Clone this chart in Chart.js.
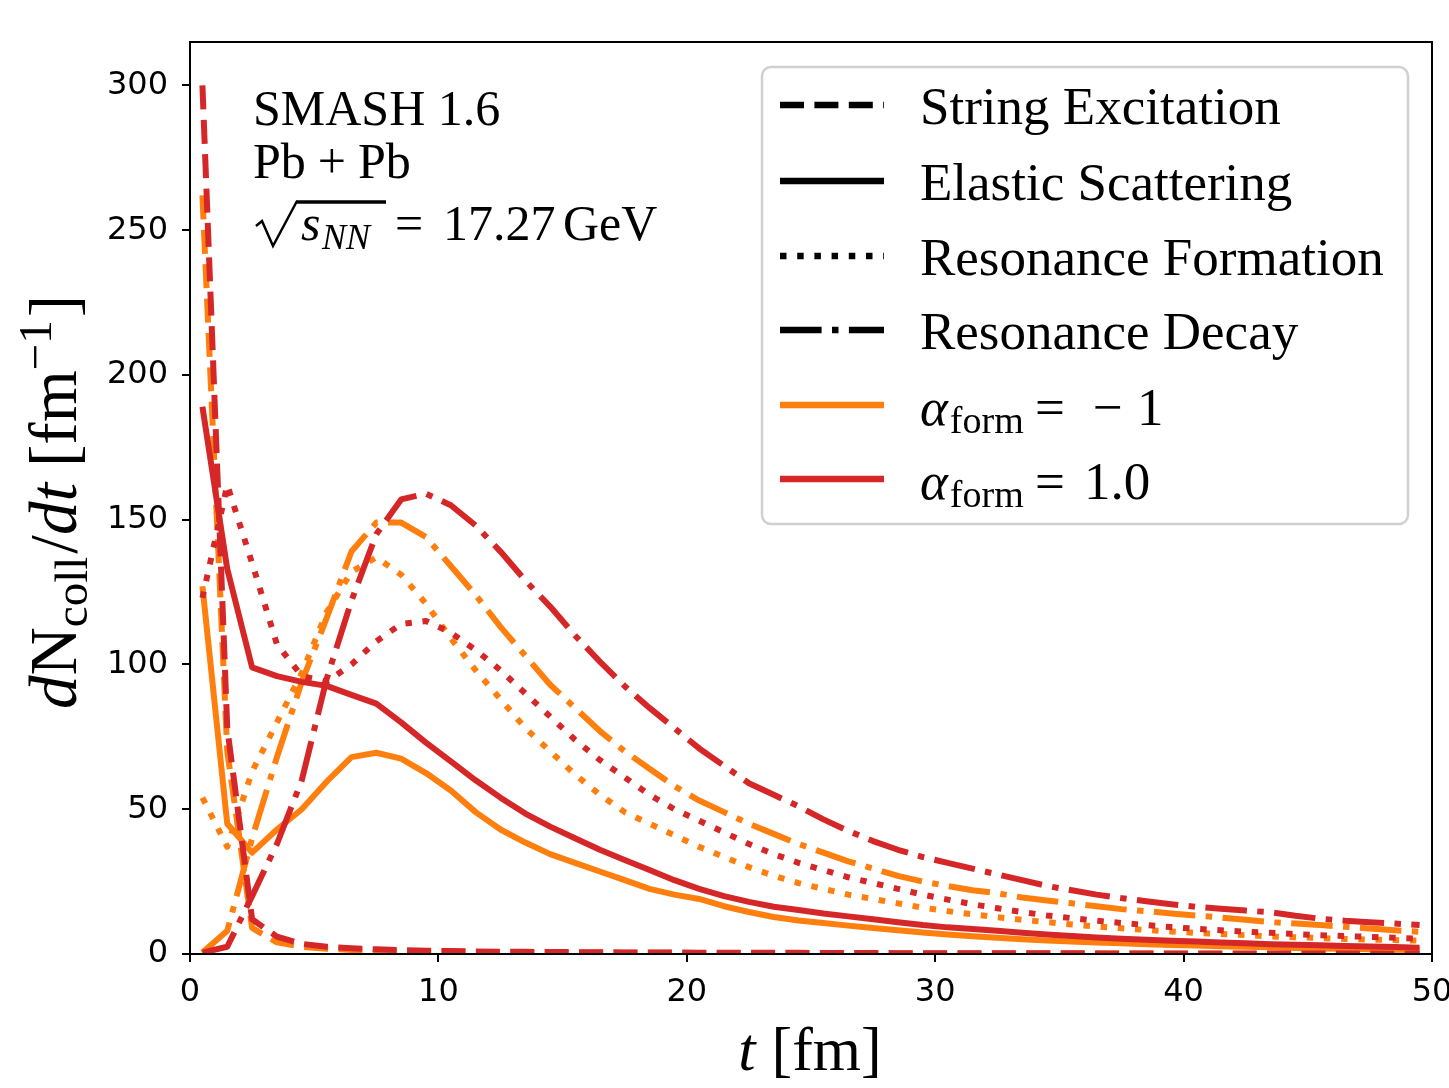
<!DOCTYPE html>
<html>
<head>
<meta charset="utf-8">
<script src="https://cdn.jsdelivr.net/npm/chart.js@4"></script>
<style>
  html, body { margin: 0; padding: 0; background: #fff; }
  canvas { display: block; }
</style>
</head>
<body>
<canvas id="chart" width="1449" height="1088"></canvas>
<script>
// time bins (fm)
const times = [0.5, 1.5, 2.5, 3.5, 4.5, 5.5, 6.5, 7.5, 8.5, 9.5,
  10.5, 11.5, 12.5, 13.5, 14.5, 15.5, 16.5, 17.5, 18.5, 19.5,
  20.5, 21.5, 22.5, 23.5, 24.5, 25.5, 26.5, 27.5, 28.5, 29.5,
  30.5, 31.5, 32.5, 33.5, 34.5, 35.5, 36.5, 37.5, 38.5, 39.5,
  40.5, 41.5, 42.5, 43.5, 44.5, 45.5, 46.5, 47.5, 48.5, 49.5];

const xTicks = [0, 10, 20, 30, 40, 50];
const yTicks = [0, 50, 100, 150, 200, 250, 300];

// alpha_form = 1.0 (red)
const stringRed = [300, 78, 12, 6, 3.5, 2.5, 2, 1.6, 1.3, 1.1,
  1.0, 0.9, 0.8, 0.75, 0.7, 0.65, 0.6, 0.55, 0.5, 0.5,
  0.45, 0.45, 0.4, 0.4, 0.4, 0.35, 0.35, 0.35, 0.3, 0.3,
  0.3, 0.3, 0.25, 0.25, 0.25, 0.25, 0.2, 0.2, 0.2, 0.2,
  0.2, 0.2, 0.15, 0.15, 0.15, 0.15, 0.15, 0.15, 0.1, 0.1];
const elasticRed = [189, 133, 99, 96, 94, 92.6, 89.5, 86.5, 80, 73,
  66.5, 60, 54, 48.5, 44, 40, 36, 32.5, 29, 25.5,
  22.5, 20, 18, 16.3, 15.2, 14, 13, 12, 11, 10,
  9.2, 8.6, 8, 7.3, 6.7, 6.2, 5.7, 5.3, 4.9, 4.6,
  4.3, 4.0, 3.7, 3.4, 3.2, 3.0, 2.8, 2.6, 2.4, 2.2];
const formationRed = [123, 162, 135, 107, 96, 94, 100, 108, 114, 115,
  111, 105, 98, 90, 82, 74, 67, 61, 55, 50,
  46, 42, 38, 34.5, 31.5, 29, 26.5, 24.5, 22.5, 20.5,
  18.8, 17.2, 15.8, 14.5, 13.3, 12.4, 11.5, 10.7, 10, 9.3,
  8.7, 8.2, 7.7, 7.3, 6.9, 6.5, 6.2, 5.9, 5.6, 5.3];
const decayRed = [0.5, 2.5, 20, 38, 60, 95, 122, 145, 157, 159,
  155, 148, 139, 129, 120, 110, 101, 92.5, 85, 78,
  71, 65, 59, 55, 51, 46.5, 42.5, 39, 36, 33.5,
  31.5, 29.5, 27.5, 25.5, 23.5, 22, 20.5, 19.3, 18.2, 17.2,
  16.3, 15.6, 15, 14.4, 13.2, 12.2, 11.5, 11, 10.5, 10];

// alpha_form = -1 (orange)
const stringOrange = [262, 70, 9, 4, 2.5, 1.8, 1.4, 1.2, 1.0, 0.9,
  0.8, 0.7, 0.65, 0.6, 0.55, 0.5, 0.5, 0.45, 0.4, 0.4,
  0.35, 0.35, 0.3, 0.3, 0.3, 0.3, 0.25, 0.25, 0.25, 0.2,
  0.2, 0.2, 0.2, 0.2, 0.15, 0.15, 0.15, 0.15, 0.15, 0.1,
  0.1, 0.1, 0.1, 0.1, 0.1, 0.1, 0.1, 0.1, 0.05, 0.05];
const elasticOrange = [127, 45, 35, 43, 50, 59.5, 68, 69.5, 67.5, 62.5,
  56.5, 49, 43, 38.5, 34.5, 31.5, 28.5, 25.5, 22.5, 20.5,
  19, 16.5, 14.5, 12.8, 11.6, 10.7, 9.8, 9, 8.2, 7.4,
  6.7, 6.1, 5.6, 5.1, 4.7, 4.3, 4.0, 3.7, 3.4, 3.1,
  2.9, 2.7, 2.5, 2.3, 2.1, 1.9, 1.8, 1.6, 1.5, 1.4];
const formationOrange = [54, 37, 63, 80, 97, 118, 132, 137, 131, 121,
  109, 98, 88, 78, 70, 62, 55, 49, 45, 41,
  37, 33.5, 30, 27, 24.5, 22.5, 20.5, 19, 17.5, 16,
  14.8, 13.7, 12.7, 11.8, 11, 10.2, 9.5, 8.9, 8.3, 7.8,
  7.3, 6.9, 6.5, 6.1, 5.8, 5.5, 5.2, 5.0, 4.8, 4.6];
const decayOrange = [0.5, 8, 40, 68, 94, 116, 139, 149, 149, 144,
  134, 124, 113, 103, 93, 85, 77, 70, 64, 58,
  53, 49, 45, 41.5, 38, 35, 32, 29.5, 27, 25,
  23.5, 22, 21, 19.5, 18.5, 17.5, 16.5, 15.5, 14.8, 14,
  13.3, 12.6, 11.8, 11, 10.5, 10, 9.4, 8.8, 8.2, 7.7];

const processNames = ["String Excitation", "Elastic Scattering", "Resonance Formation", "Resonance Decay"];

const ORANGE = "#ff7f0e";
const RED = "#d62728";
const SERIF = '"Liberation Serif", "DejaVu Serif", serif';
const LW = 6;
const dashes = [[24, 10.4], [], [6.5, 10.7], [41.6, 10.4, 6.5, 10.4]];

const makeSet = (label, values, color, dash) => ({
  label: label,
  data: times.map((t, i) => ({ x: t, y: values[i] })),
  borderColor: color,
  borderWidth: LW,
  borderDash: dash,
  borderJoinStyle: "round",
  pointRadius: 0,
  tension: 0,
  fill: false,
});

// first dataset is drawn on top, so red goes first
const datasets = [
  makeSet("string red", stringRed, RED, dashes[0]),
  makeSet("elastic red", elasticRed, RED, dashes[1]),
  makeSet("formation red", formationRed, RED, dashes[2]),
  makeSet("decay red", decayRed, RED, dashes[3]),
  makeSet("string orange", stringOrange, ORANGE, dashes[0]),
  makeSet("elastic orange", elasticOrange, ORANGE, dashes[1]),
  makeSet("formation orange", formationOrange, ORANGE, dashes[2]),
  makeSet("decay orange", decayOrange, ORANGE, dashes[3]),
];

// draws a list of text pieces one after another
function rich(ctx, x, y, parts) {
  for (const p of parts) {
    ctx.font = p.f;
    ctx.fillText(p.t, x, y + (p.dy || 0));
    x += ctx.measureText(p.t).width + (p.gap || 0);
  }
  return x;
}
function richWidth(ctx, parts) {
  let w = 0;
  for (const p of parts) {
    ctx.font = p.f;
    w += ctx.measureText(p.t).width + (p.gap || 0);
  }
  return w;
}

const overlay = {
  id: "overlay",
  afterDraw(chart) {
    const ctx = chart.ctx;
    const a = chart.chartArea;
    ctx.save();

    // axes frame
    ctx.strokeStyle = "#000";
    ctx.lineWidth = 2;
    ctx.setLineDash([]);
    ctx.strokeRect(a.left, a.top, a.right - a.left, a.bottom - a.top);

    ctx.fillStyle = "#000";
    ctx.textBaseline = "alphabetic";
    ctx.textAlign = "left";

    // annotation block
    const f50 = "50px " + SERIF;
    rich(ctx, 253, 125, [{ t: "SMASH 1.6", f: f50 }]);
    rich(ctx, 253, 178, [{ t: "Pb", f: f50, gap: 12 }, { t: "+", f: f50, gap: 12 }, { t: "Pb", f: f50 }]);
    ctx.lineWidth = 2.5;
    ctx.beginPath();
    ctx.moveTo(256, 226);
    ctx.lineTo(262, 221);
    ctx.lineTo(273, 246);
    ctx.lineTo(297, 201);
    ctx.stroke();
    ctx.lineWidth = 3.5;
    ctx.beginPath();
    ctx.moveTo(296, 202);
    ctx.lineTo(386, 202);
    ctx.stroke();
    rich(ctx, 301, 240, [{ t: "s", f: "italic 50px " + SERIF }]);
    rich(ctx, 322, 249, [{ t: "NN", f: "italic 36px " + SERIF }]);
    rich(ctx, 395, 240, [{ t: "=", f: f50 }]);
    rich(ctx, 443, 240, [{ t: "17.27", f: f50 }]);
    rich(ctx, 563, 240, [{ t: "GeV", f: f50 }]);

    // legend box
    const bx = 762, by = 67, bw = 646, bh = 457;
    ctx.beginPath();
    ctx.roundRect(bx, by, bw, bh, 9);
    ctx.fillStyle = "rgba(255,255,255,0.8)";
    ctx.fill();
    ctx.strokeStyle = "#d0d0d0";
    ctx.lineWidth = 2.5;
    ctx.stroke();

    const rows = [105, 181, 256, 330, 405, 479];
    const f53 = "53px " + SERIF;
    ctx.lineWidth = 6.5;
    ctx.lineCap = "butt";
    for (let i = 0; i < 6; i++) {
      const cy = rows[i];
      ctx.strokeStyle = i < 4 ? "#000" : (i === 4 ? ORANGE : RED);
      ctx.setLineDash(i < 4 ? dashes[i] : []);
      ctx.beginPath();
      ctx.moveTo(780, cy);
      ctx.lineTo(884, cy);
      ctx.stroke();
    }
    ctx.setLineDash([]);
    ctx.fillStyle = "#000";
    for (let i = 0; i < 4; i++) {
      rich(ctx, 920, rows[i] + 19, [{ t: processNames[i], f: f53 }]);
    }
    const alphaParts = [{ t: "α", f: "italic 53px " + SERIF, gap: 2 }, { t: "form", f: "38px " + SERIF, dy: 8 }];
    rich(ctx, 920, rows[4] + 20, alphaParts);
    rich(ctx, 1035, rows[4] + 20, [{ t: "=", f: f53 }]);
    rich(ctx, 1093, rows[4] + 20, [{ t: "−", f: f53 }]);
    rich(ctx, 1137, rows[4] + 20, [{ t: "1", f: f53 }]);
    rich(ctx, 920, rows[5] + 20, alphaParts);
    rich(ctx, 1035, rows[5] + 20, [{ t: "=", f: f53 }]);
    rich(ctx, 1084, rows[5] + 20, [{ t: "1.0", f: f53 }]);

    // x axis title
    const xParts = [{ t: "t", f: "italic 62px " + SERIF, gap: 16 }, { t: "[fm]", f: "62px " + SERIF }];
    rich(ctx, 810 - richWidth(ctx, xParts) / 2, 1070, xParts);

    // y axis title
    const yParts = [
      { t: "d", f: "italic 67px " + SERIF },
      { t: "N", f: "67px " + SERIF },
      { t: "coll", f: "47px " + SERIF, dy: 11, gap: 3 },
      { t: "/", f: "67px " + SERIF },
      { t: "dt", f: "italic 67px " + SERIF, gap: 16 },
      { t: "[fm", f: "67px " + SERIF },
      { t: "−1", f: "47px " + SERIF, dy: -25, gap: 3 },
      { t: "]", f: "67px " + SERIF },
    ];
    ctx.translate(76, 502);
    ctx.rotate(-Math.PI / 2);
    rich(ctx, -richWidth(ctx, yParts) / 2, 0, yParts);

    ctx.restore();
  },
};

const tickFont = { family: "DejaVu Sans", size: 32 };

new Chart(document.getElementById("chart").getContext("2d"), {
  type: "line",
  data: { datasets: datasets },
  options: {
    responsive: false,
    animation: false,
    devicePixelRatio: 1,
    layout: { padding: { top: 42, right: 17, left: 0, bottom: 0 } },
    plugins: {
      legend: { display: false },
      tooltip: { enabled: false },
    },
    scales: {
      x: {
        type: "linear",
        min: 0,
        max: 50,
        afterBuildTicks: (scale) => {
          scale.ticks = xTicks.map((v) => ({ value: v }));
        },
        ticks: { font: tickFont, color: "#000", padding: 11, maxRotation: 0, autoSkip: false },
        grid: { drawOnChartArea: false, color: "#000", tickColor: "#000", lineWidth: 2, tickLength: 8 },
        border: { display: false },
        afterFit: (scale) => {
          scale.height = 134;
          scale.paddingLeft = 0;
          scale.paddingRight = 0;
        },
      },
      y: {
        type: "linear",
        min: 0,
        max: 315,
        afterBuildTicks: (scale) => {
          scale.ticks = yTicks.map((v) => ({ value: v }));
        },
        ticks: { font: tickFont, color: "#000", padding: 14, autoSkip: false },
        grid: { drawOnChartArea: false, color: "#000", tickColor: "#000", lineWidth: 2, tickLength: 8 },
        border: { display: false },
        afterFit: (scale) => {
          scale.width = 190;
        },
      },
    },
  },
  plugins: [overlay],
});
</script>
</body>
</html>
